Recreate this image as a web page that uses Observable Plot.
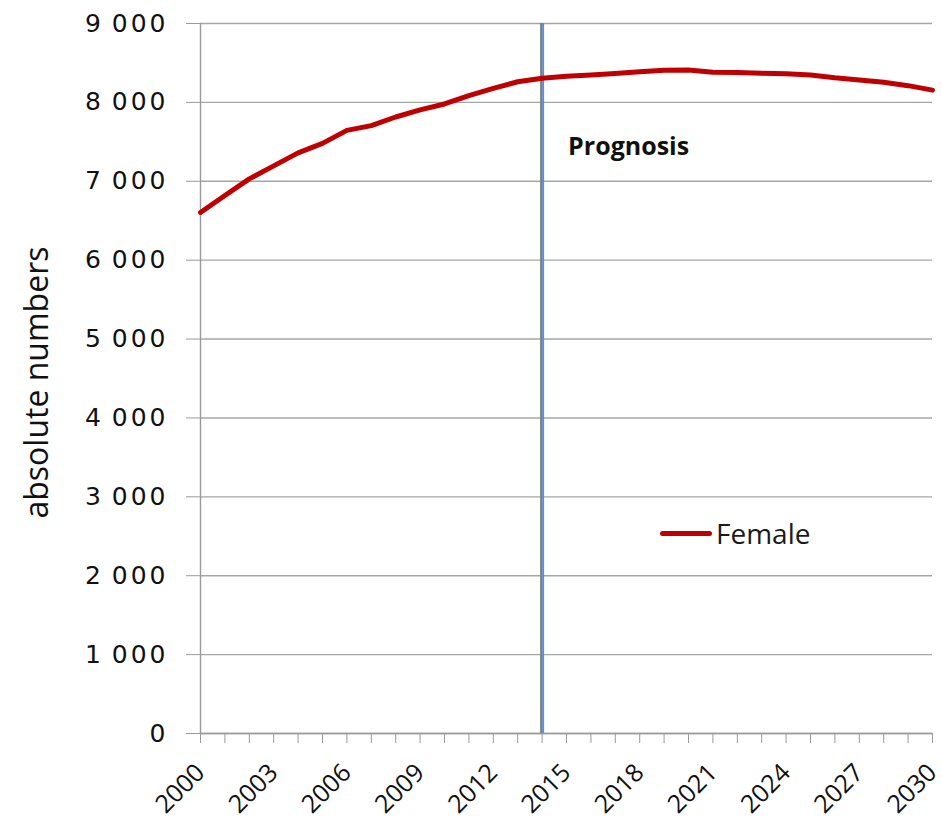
<!DOCTYPE html>
<html>
<head>
<meta charset="utf-8">
<script src="https://cdn.jsdelivr.net/npm/d3@7"></script>
<script src="https://cdn.jsdelivr.net/npm/@observablehq/plot@0.6"></script>
<style>
  body { margin: 0; background: #fff; }
  #wrap { position: relative; width: 942px; height: 823px; }
  #legend { position: absolute; left: 660px; top: 514px; display: flex; align-items: center;
    font-family: "Open Sans", sans-serif; font-size: 28px; color: #1a1a1a; }
  #legend .sw { width: 52px; height: 5px; background: #c00000; border-radius: 3px; margin-right: 4px; }
</style>
</head>
<body>
<div id="wrap">
  <div id="chart"></div>
  <div id="legend"><span class="sw"></span><span id="legendText"></span></div>
</div>
<script>
const years = [2000,2001,2002,2003,2004,2005,2006,2007,2008,2009,2010,2011,2012,2013,2014,2015,
  2016,2017,2018,2019,2020,2021,2022,2023,2024,2025,2026,2027,2028,2029,2030];
const female = [6605,6820,7030,7195,7360,7480,7645,7705,7815,7905,7980,8085,8178,8262,8305,8330,
  8346,8367,8388,8408,8410,8383,8380,8368,8362,8346,8312,8285,8255,8212,8155];
const seriesName = "Female";
const yTicks = [0,1000,2000,3000,4000,5000,6000,7000,8000,9000];
const labeledYears = [2000,2003,2006,2009,2012,2015,2018,2021,2024,2027,2030];
const prognosisStart = [2014];
const prognosisLabel = "Prognosis";
const yLabel = "absolute numbers";

const data = years.map((y, i) => ({year: y, value: female[i]}));
const fmt = v => d3.format(",")(v).replace(/,/g, "\u2009");

const chart = Plot.plot({
  width: 942,
  height: 823,
  marginLeft: 200,
  marginRight: 10,
  marginTop: 23,
  marginBottom: 90,
  x: {domain: [2000, 2030]},
  y: {domain: [0, 9000]},
  marks: [
    Plot.gridY(yTicks, {stroke: "#a6a6a6", strokeOpacity: 1, strokeWidth: 1.4}),
    Plot.ruleY([0], {stroke: "#9a9a9a", strokeWidth: 1.4}),
    Plot.ruleX([2000], {stroke: "#9a9a9a", strokeWidth: 1.4}),
    Plot.axisY(yTicks, {tickSize: 14, tickPadding: 18, tickFormat: fmt, stroke: "#9a9a9a",
      fontFamily: "DejaVu Sans", fontSize: 25, fill: "#111", label: null}),
    Plot.axisX(years, {tickSize: 10, tickPadding: 25, stroke: "#9a9a9a", tickRotate: -45,
      tickFormat: d => labeledYears.includes(d) ? String(d) : "",
      fontFamily: "Open Sans", fontSize: 25, fill: "#111", label: null}),
    Plot.ruleX(prognosisStart, {stroke: "#7f7f7f", strokeWidth: 2, dx: -1, y1: 9000, y2: 0}),
    Plot.ruleX(prognosisStart, {stroke: "#5b8fd0", strokeWidth: 2, dx: 1, y1: 9000, y2: 0}),
    Plot.line(data, {x: "year", y: "value", stroke: "#c00000", strokeWidth: 5, strokeLinejoin: "round", strokeLinecap: "round"}),
    Plot.text([prognosisLabel], {x: () => prognosisStart[0], frameAnchor: "top", dy: 114, dx: 26,
      textAnchor: "start", fontFamily: "Open Sans", fontWeight: "bold", fontSize: 25, fill: "#111"}),
    Plot.text([yLabel], {frameAnchor: "left", textAnchor: "middle", rotate: -90, dx: -163, dy: 4,
      fontFamily: "Open Sans", fontSize: 32, fill: "#111"})
  ]
});
chart.style.overflow = "visible";
document.getElementById("chart").appendChild(chart);
const sel = d3.select(chart);
sel.selectAll('g[aria-label="y-axis tick label"]').attr("font-size", 25).attr("font-family", "DejaVu Sans");
sel.selectAll('g[aria-label="y-axis tick label"] text').attr("letter-spacing", 3);
sel.selectAll('g[aria-label="x-axis tick label"]').attr("font-size", 25).attr("font-family", "Open Sans");
document.getElementById("legendText").textContent = seriesName;
</script>
</body>
</html>
